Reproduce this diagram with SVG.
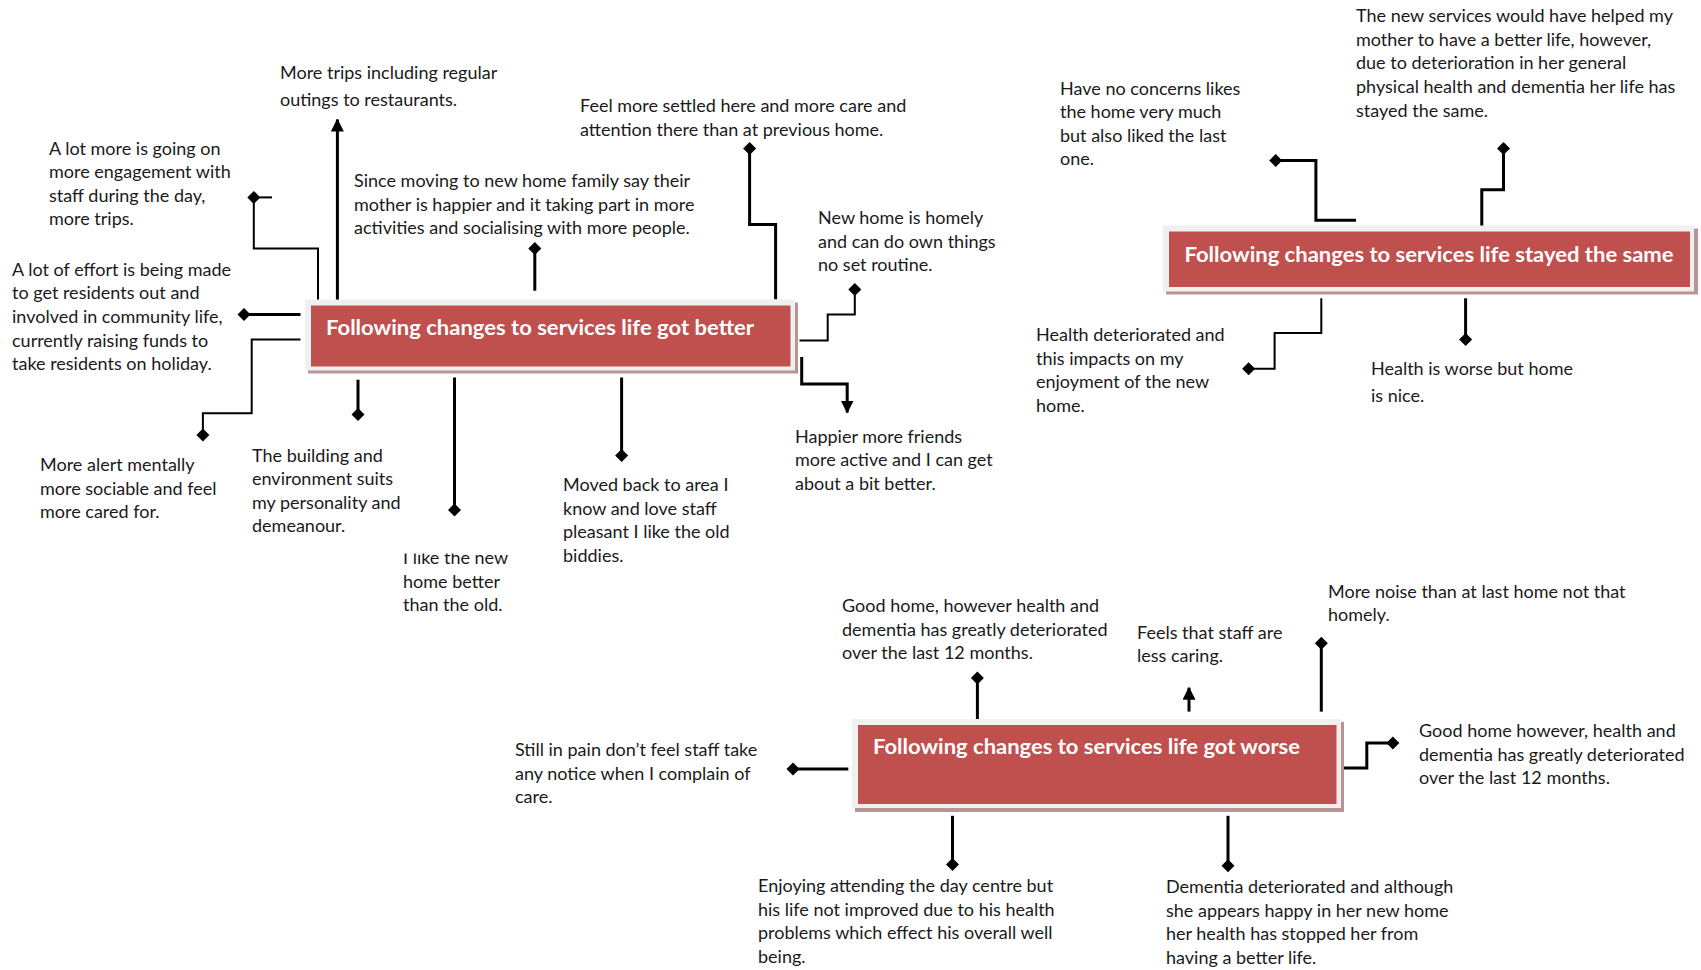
<svg xmlns="http://www.w3.org/2000/svg" width="1701" height="970" viewBox="0 0 1701 970">
<style>
.t{font-family:Lato,"Open Sans","Liberation Sans",sans-serif;font-size:18px;fill:#1a1a1a}
.h{font-family:Lato,"Open Sans","Liberation Sans",sans-serif;font-size:20px;font-weight:bold;fill:#ffffff}
.sh{fill:#b99494}
.fr{fill:#f0f0f0}
.rd{fill:#c0504d}
.c{fill:none;stroke:#000;stroke-width:3}
.c2{fill:none;stroke:#000;stroke-width:2}
.d{marker-end:url(#dia)}
.a{marker-end:url(#arr)}
</style>
<defs>
<marker id="dia" viewBox="-7 -7 14 14" markerWidth="14" markerHeight="14" markerUnits="userSpaceOnUse" refX="0" refY="0" orient="0"><path d="M0,-6.5 L6.5,0 L0,6.5 L-6.5,0Z" fill="#000"/></marker>
<marker id="arr" viewBox="0 0 13 13" markerWidth="13" markerHeight="13" markerUnits="userSpaceOnUse" refX="12" refY="6.5" orient="auto"><path d="M0,0 L13,6.5 L0,13Z" fill="#000"/></marker>
<clipPath id="clip10"><rect x="390" y="553.5" width="130" height="75"/></clipPath>
</defs>
<rect width="1701" height="970" fill="#ffffff"/>

<g id="connectors">
<path class="c a" d="M337.4,301 V119.5"/>
<path class="c2 d" d="M318,301 V248.4 H253.8 V197.4"/>
<path class="c2" d="M253.8,197.4 H272"/>
<path class="c d" d="M300.5,314.6 H244"/>
<path class="c2 d" d="M300.5,339.5 H251.7 V413.3 H202.9 V435"/>
<path class="c d" d="M534.8,290.7 V248.4"/>
<path class="c d" d="M775.6,299.4 V224.6 H749.6 V148.6"/>
<path class="c2 d" d="M799.5,340.6 H827.7 V314.6 H854.8 V289.6"/>
<path class="c a" d="M801.7,357 V384 H847.2 V412.5"/>
<path class="c d" d="M358,379.7 V414.4"/>
<path class="c d" d="M454.5,377.5 V510"/>
<path class="c d" d="M621.6,377.5 V455.6"/>

<path class="c d" d="M1356,220.2 H1315.9 V160.5 H1275.7"/>
<path class="c d" d="M1481.8,228.9 V189.8 H1503.5 V148.6"/>
<path class="c2 d" d="M1321.3,298.3 V333 H1274.6 V368.8 H1248.6"/>
<path class="c d" d="M1465.6,298.3 V339.5"/>

<path class="c d" d="M977.4,719 V678"/>
<path class="c a" d="M1189,711.6 V687.8"/>
<path class="c d" d="M1321.3,711.6 V643.3"/>
<path class="c d" d="M848.3,769 H793"/>
<path class="c d" d="M952.5,815.8 V864.6"/>
<path class="c d" d="M1228,815.8 V865.7"/>
<path class="c d" d="M1341.9,768 H1366.8 V743 H1392.9"/>
</g>

<g id="box-better">
<rect class="sh" x="308" y="302.5" width="490" height="71"/>
<rect class="fr" x="305" y="299.5" width="490" height="71"/>
<rect class="rd" x="311" y="305.5" width="479.5" height="61"/>
<text class="h" x="326" y="335" textLength="428" lengthAdjust="spacingAndGlyphs">Following changes to services life got better</text>
</g>

<g id="box-same">
<rect class="sh" x="1166" y="228.5" width="532" height="66"/>
<rect class="fr" x="1163" y="225.5" width="531" height="66"/>
<rect class="rd" x="1169" y="231.5" width="521" height="55.5"/>
<text class="h" x="1184.5" y="262" textLength="489" lengthAdjust="spacingAndGlyphs">Following changes to services life stayed the same</text>
</g>

<g id="box-worse">
<rect class="sh" x="855" y="722" width="489" height="90"/>
<rect class="fr" x="852" y="719" width="489" height="89"/>
<rect class="rd" x="858" y="725" width="478.5" height="79"/>
<text class="h" x="873" y="754" textLength="427" lengthAdjust="spacingAndGlyphs">Following changes to services life got worse</text>
</g>

<g id="n-trips" class="t"><text x="280" y="78.5">More trips including regular</text><text x="280" y="106">outings to restaurants.</text></g>
<g id="n-alot" class="t"><text x="49" y="155">A lot more is going on</text><text x="49" y="178">more engagement with</text><text x="49" y="201.5">staff during the day,</text><text x="49" y="224.5">more trips.</text></g>
<g id="n-effort" class="t"><text x="12" y="275.5">A lot of effort is being made</text><text x="12" y="299">to get residents out and</text><text x="12" y="323">involved in community life,</text><text x="12" y="347">currently raising funds to</text><text x="12" y="370">take residents on holiday.</text></g>
<g id="n-since" class="t"><text x="354" y="186.5">Since moving to new home family say their</text><text x="354" y="210.5">mother is happier and it taking part in more</text><text x="354" y="234">activities and socialising with more people.</text></g>
<g id="n-settled" class="t"><text x="580" y="111.5">Feel more settled here and more care and</text><text x="580" y="135.5">attention there than at previous home.</text></g>
<g id="n-homely" class="t"><text x="818" y="224">New home is homely</text><text x="818" y="247.5">and can do own things</text><text x="818" y="271">no set routine.</text></g>
<g id="n-happier" class="t"><text x="795" y="442.5">Happier more friends</text><text x="795" y="466">more active and I can get</text><text x="795" y="489.5">about a bit better.</text></g>
<g id="n-alert" class="t"><text x="40" y="471">More alert mentally</text><text x="40" y="495">more sociable and feel</text><text x="40" y="518">more cared for.</text></g>
<g id="n-building" class="t"><text x="252" y="461.5">The building and</text><text x="252" y="485">environment suits</text><text x="252" y="508.5">my personality and</text><text x="252" y="532">demeanour.</text></g>
<g id="n-like" class="t" clip-path="url(#clip10)"><text x="403" y="564">I like the new</text><text x="403" y="587.5">home better</text><text x="403" y="611">than the old.</text></g>
<g id="n-moved" class="t"><text x="563" y="491">Moved back to area I</text><text x="563" y="514.5">know and love staff</text><text x="563" y="538">pleasant I like the old</text><text x="563" y="561.5">biddies.</text></g>

<g id="n-concerns" class="t"><text x="1060" y="94.5">Have no concerns likes</text><text x="1060" y="118">the home very much</text><text x="1060" y="141.5">but also liked the last</text><text x="1060" y="165">one.</text></g>
<g id="n-newservices" class="t"><text x="1356" y="22">The new services would have helped my</text><text x="1356" y="46">mother to have a better life, however,</text><text x="1356" y="69">due to deterioration in her general</text><text x="1356" y="93">physical health and dementia her life has</text><text x="1356" y="116.5">stayed the same.</text></g>
<g id="n-healthdet" class="t"><text x="1036" y="341">Health deteriorated and</text><text x="1036" y="364.5">this impacts on my</text><text x="1036" y="388">enjoyment of the new</text><text x="1036" y="411.5">home.</text></g>
<g id="n-healthworse" class="t"><text x="1371" y="374.5">Health is worse but home</text><text x="1371" y="401.5">is nice.</text></g>

<g id="n-goodhome1" class="t"><text x="842" y="612">Good home, however health and</text><text x="842" y="635.5">dementia has greatly deteriorated</text><text x="842" y="659">over the last 12 months.</text></g>
<g id="n-lesscaring" class="t"><text x="1137" y="638.5">Feels that staff are</text><text x="1137" y="661.5">less caring.</text></g>
<g id="n-noise" class="t"><text x="1328" y="598">More noise than at last home not that</text><text x="1328" y="621">homely.</text></g>
<g id="n-pain" class="t"><text x="515" y="756">Still in pain don’t feel staff take</text><text x="515" y="779.5">any notice when I complain of</text><text x="515" y="803">care.</text></g>
<g id="n-goodhome2" class="t"><text x="1419" y="737">Good home however, health and</text><text x="1419" y="760.5">dementia has greatly deteriorated</text><text x="1419" y="784">over the last 12 months.</text></g>
<g id="n-daycentre" class="t"><text x="758" y="892">Enjoying attending the day centre but</text><text x="758" y="915.5">his life not improved due to his health</text><text x="758" y="939">problems which effect his overall well</text><text x="758" y="962.5">being.</text></g>
<g id="n-dementia" class="t"><text x="1166" y="893">Dementia deteriorated and although</text><text x="1166" y="916.5">she appears happy in her new home</text><text x="1166" y="940">her health has stopped her from</text><text x="1166" y="963.5">having a better life.</text></g>
</svg>
